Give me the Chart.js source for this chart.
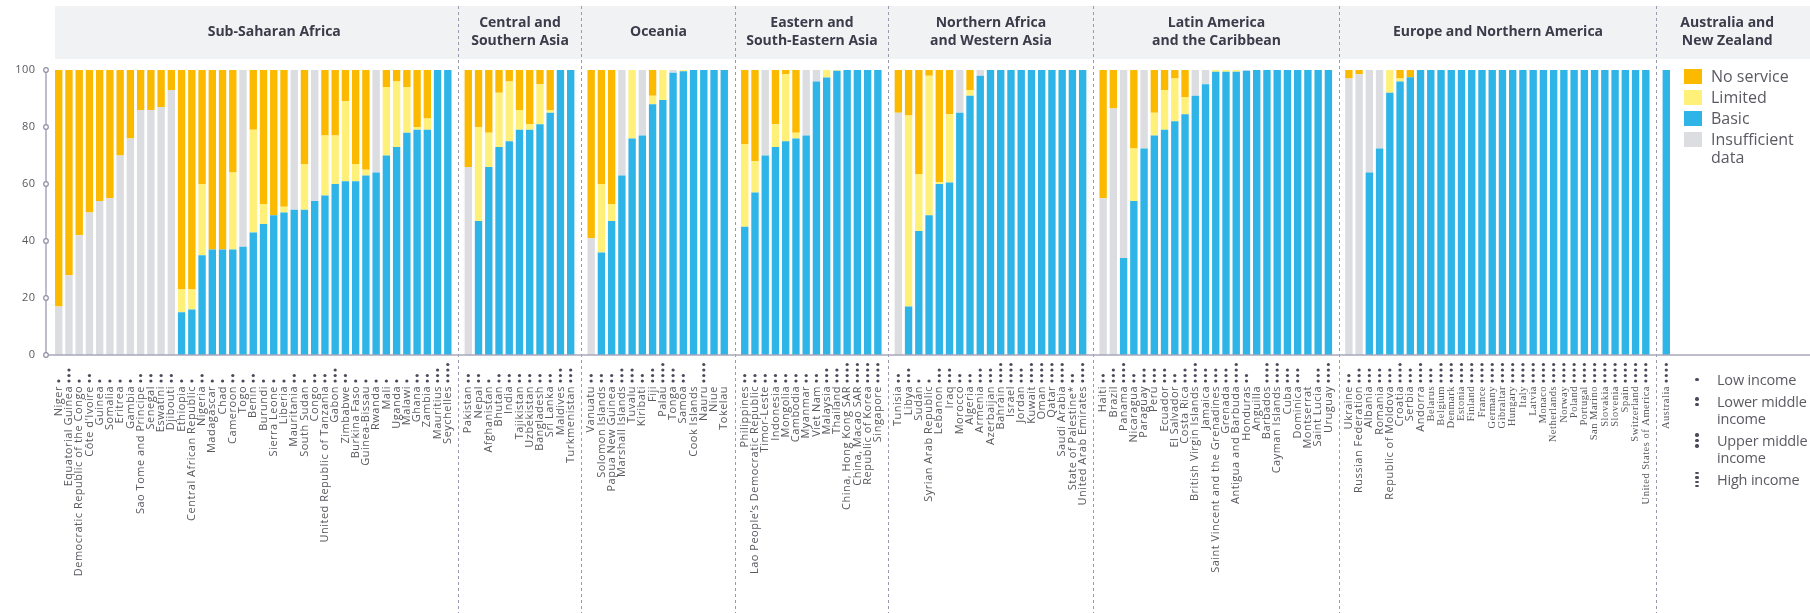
<!DOCTYPE html>
<html>
<head>
<meta charset="utf-8">
<script src="https://cdn.jsdelivr.net/npm/chart.js@4.4.1/dist/chart.umd.min.js"></script>
<style>
  html, body { margin: 0; padding: 0; background: #fff; }
  #wrap { position: relative; width: 1810px; height: 613px; overflow: hidden; }
  #chart { position: absolute; left: 0; top: 0; }
  .legend { position: absolute; font-family: 'Open Sans', sans-serif; font-size: 16px; color: #5a5a62; }
  .legend .row { display: flex; align-items: flex-start; }
  .legend .sw { width: 18px; height: 15px; margin-top: 2px; margin-right: 9px; flex: none; }
  .legend .lbl { line-height: 18px; white-space: nowrap; }
  .legend .dots { width: 14px; margin-right: 13px; flex: none; display: flex; flex-direction: column; align-items: center; justify-content: center; height: 17px; }
  .legend .dots i { display: block; width: 3.4px; height: 3.4px; border-radius: 50%; background: #4a4a5a; margin: 1px 0; }
  #incomeLegend { font-size: 14.5px; letter-spacing: -0.2px; }
  .legend .inc .lbl { line-height: 17px; }
</style>
</head>
<body>
<div id="wrap">
  <canvas id="chart" width="1810" height="613"></canvas>
  <div class="legend" id="seriesLegend" style="left:1684px; top:67px;"></div>
  <div class="legend" id="incomeLegend" style="left:1690px; top:371px;"></div>
</div>
<script>
/* ===== Data ===== */
const regionTitles = [
  ['Sub-Saharan Africa'],
  ['Central and', 'Southern Asia'],
  ['Oceania'],
  ['Eastern and', 'South-Eastern Asia'],
  ['Northern Africa', 'and Western Asia'],
  ['Latin America', 'and the Caribbean'],
  ['Europe and Northern America'],
  ['Australia and', 'New Zealand']
];

// '' marks the gap between two regions
const countries = [
  'Niger', 'Equatorial Guinea', 'Democratic Republic of the Congo', "Côte d'Ivoire", 'Guinea', 'Somalia', 'Eritrea', 'Gambia',
  'Sao Tome and Principe', 'Senegal', 'Eswatini', 'Djibouti', 'Ethiopia', 'Central African Republic', 'Nigeria', 'Madagascar',
  'Chad', 'Cameroon', 'Togo', 'Benin', 'Burundi', 'Sierra Leone', 'Liberia', 'Mauritania', 'South Sudan', 'Congo',
  'United Republic of Tanzania', 'Gabon', 'Zimbabwe', 'Burkina Faso', 'Guinea-Bissau', 'Rwanda', 'Mali', 'Uganda', 'Malawi',
  'Ghana', 'Zambia', 'Mauritius', 'Seychelles', '',
  'Pakistan', 'Nepal', 'Afghanistan', 'Bhutan', 'India', 'Tajikistan', 'Uzbekistan', 'Bangladesh', 'Sri Lanka', 'Maldives',
  'Turkmenistan', '',
  'Vanuatu', 'Solomon Islands', 'Papua New Guinea', 'Marshall Islands', 'Tuvalu', 'Kiribati', 'Fiji', 'Palau', 'Tonga',
  'Samoa', 'Cook Islands', 'Nauru', 'Niue', 'Tokelau', '',
  'Philippines', 'Lao People\u2019s Democratic Republic', 'Timor-Leste', 'Indonesia', 'Mongolia', 'Cambodia', 'Myanmar',
  'Viet Nam', 'Malaysia', 'Thailand', 'China, Hong Kong SAR', 'China, Macao SAR', 'Republic of Korea', 'Singapore', '',
  'Tunisia', 'Libya', 'Sudan', 'Syrian Arab Republic', 'Lebanon', 'Iraq', 'Morocco', 'Algeria', 'Armenia', 'Azerbaijan',
  'Bahrain', 'Israel', 'Jordan', 'Kuwait', 'Oman', 'Qatar', 'Saudi Arabia', 'State of Palestine*', 'United Arab Emirates', '',
  'Haiti', 'Brazil', 'Panama', 'Nicaragua', 'Paraguay', 'Peru', 'Ecuador', 'El Salvador', 'Costa Rica',
  'British Virgin Islands', 'Jamaica', 'Saint Vincent and the Grenadines', 'Grenada', 'Antigua and Barbuda', 'Honduras',
  'Anguilla', 'Barbados', 'Cayman Islands', 'Cuba', 'Dominica', 'Montserrat', 'Saint Lucia', 'Uruguay', '',
  'Ukraine', 'Russian Federation', 'Albania', 'Romania', 'Republic of Moldova', 'Croatia', 'Serbia', 'Andorra', 'Belarus',
  'Belgium', 'Denmark', 'Estonia', 'Finland', 'France', 'Germany', 'Gibraltar', 'Hungary', 'Italy', 'Latvia', 'Monaco',
  'Netherlands', 'Norway', 'Poland', 'Portugal', 'San Marino', 'Slovakia', 'Slovenia', 'Spain', 'Switzerland',
  'United States of America', '',
  'Australia'
];

// income group: 1 low, 2 lower middle, 3 upper middle, 4 high, 0 not classified
const income = [
  1,3,1,2,1,1,1,1,2,2,2,2, 1,1,2,1, 1,2,1,2,1,1,1,2, 1,2,2,3,2,1,1,1, 1,1,1,2,2,3,4, null,
  2,2,1,2,2,2,2,2,2,3,3, null,
  2,2,2,3,3,2,3,4,3,2,0,4,0,0, null,
  2,2,2,2,2,2,2,2,3,3,4,4,4,4, null,
  2,3,1,1,3,3,2,2,3,3,4,4,3,4,4,4,4,2,4, null,
  2,3,4,2,3,3,3,2,3,4,3,3,3,4,2,0,4,4,3,3,0,3,4, null,
  2,3,3,3,3,4,3,4,3, 4,4,4,4,4,4,4,4,4,4,4,4,4,4,4,4,4,4,4,4,4, null,
  4
];

const basic = [
  0,0,0,0,0,0,0,0,0,0,0,0, 15,16,35,37,37,37,38,43,46,49,50,51,51,54,56,60,61,61,63,64,70,73,78,79,79,100,100, null,
  0,47,66,73,75,79,79,81,85,100,100, null,
  0,36,47,63,76,77,88,89.5,99,99.6,100,100,100,100, null,
  45,57,70,73,75,76,77,96,97.4,99.7,100,100,100,100, null,
  0,17,43.5,49,60,60.5,85,91,98, 100,100,100,100,100,100,100,100,100,100, null,
  0,0,34,54,72.5,77,79,82,84.5,91,95,99.4,99.4,99.4,99.7, 100,100,100,100,100,100,100,100, null,
  0,0,64,72.5,92,96,97.5, 100,100,100,100,100,100,100,100,100,100,100,100,100,100,100,100,100,100,100,100,100,100,100, null,
  100
];

const limited = [
  0,0,0,0,0,0,0,0,0,0,0,0, 8,7,25,0,0,27,0,36,7,0,2,0,16,0,21,17,28,6,2,0,24,23,16,1,4,0,0, null,
  0,33,12,19,21,7,2,14,1,0,0, null,
  0,24,6,0,24,0,3,10.5,0,0.4,0,0,0,0, null,
  29,11,0,8,23.5,2,0,0,2.6,0.3,0,0,0,0, null,
  0,67,20,49,0.6,24,0,2,0, 0,0,0,0,0,0,0,0,0,0, null,
  0,0,0,18.5,0,8,14,15,6,0,0,0.6,0.6,0.6,0, 0,0,0,0,0,0,0,0, null,
  0,0,0,0,8,1,0, 0,0,0,0,0,0,0,0,0,0,0,0,0,0,0,0,0,0,0,0,0,0,0, null,
  0
];

const insufficient = [
  17,28,42,50,54,55,70,76,86,86,87,93, 0,0,0,0,0,0,62,0,0,0,0,49,0,46,0,0,0,0,0,36,0,0,0,0,0,0,0, null,
  66,0,0,0,0,0,0,0,0,0,0, null,
  41,0,0,37,0,23,0,0,1,0,0,0,0,0, null,
  0,0,30,0,0,0,23,4,0,0,0,0,0,0, null,
  85,0,0,0,0,0,15,0,2, 0,0,0,0,0,0,0,0,0,0, null,
  55,86.5,66,0,27.5,0,0,0,0,9,5,0,0,0,0.3, 0,0,0,0,0,0,0,0, null,
  97,98.5,36,27.5,0,0,0, 0,0,0,0,0,0,0,0,0,0,0,0,0,0,0,0,0,0,0,0,0,0,0, null,
  0
];

const noService = [
  83,72,58,50,46,45,30,24,14,14,13,7, 77,77,40,63,63,36,0,21,47,51,48,0,33,0,23,23,11,33,35,0,6,4,6,20,17,0,0, null,
  34,20,22,8,4,14,19,5,14,0,0, null,
  59,40,47,0,0,0,9,0,0,0,0,0,0,0, null,
  26,32,0,19,1.5,22,0,0,0,0,0,0,0,0, null,
  15,16,36.5,2,39.4,15.5,0,7,0, 0,0,0,0,0,0,0,0,0,0, null,
  45,13.5,0,27.5,0,15,7,3,9.5,0,0,0,0,0,0, 0,0,0,0,0,0,0,0, null,
  3,1.5,0,0,0,3,2.5, 0,0,0,0,0,0,0,0,0,0,0,0,0,0,0,0,0,0,0,0,0,0,0, null,
  0
];

const legendLabels = [['No service'], ['Limited'], ['Basic'], ['Insufficient', 'data']];
const incomeLabels = [['Low income'], ['Lower middle', 'income'], ['Upper middle', 'income'], ['High income']];

const COLORS = {
  noService: '#fbba00',
  limited: '#fff07a',
  basic: '#2eb4e6',
  insufficient: '#dcdde0'
};
const legendColors = [COLORS.noService, COLORS.limited, COLORS.basic, COLORS.insufficient];

/* ===== Legends (HTML) ===== */
const seriesLegend = document.getElementById('seriesLegend');
legendLabels.forEach((lines, i) => {
  const row = document.createElement('div');
  row.className = 'row';
  row.style.marginBottom = '3px';
  row.innerHTML = `<span class="sw" style="background:${legendColors[i]}"></span><span class="lbl">${lines.join('<br>')}</span>`;
  seriesLegend.appendChild(row);
});

const incomeLegend = document.getElementById('incomeLegend');
incomeLabels.forEach((lines, i) => {
  const row = document.createElement('div');
  row.className = 'row inc';
  row.style.marginBottom = '5px';
  const dots = Array.from({ length: i + 1 }, () => '<i></i>').join('');
  row.innerHTML = `<span class="dots">${dots}</span><span class="lbl">${lines.join('<br>')}</span>`;
  incomeLegend.appendChild(row);
});

/* ===== Chart ===== */
const narrowFrom = countries.indexOf('Belarus');
const AXIS_X = 46;

const decor = {
  id: 'decor',
  beforeDraw(chart) {
    const { ctx: c, scales: { x } } = chart;
    const gaps = countries.map((n, i) => (n === '' ? i : -1)).filter(i => i >= 0);
    const divX = gaps.map(i => Math.round(x.getPixelForValue(i)) + 0.5);

    c.save();
    // header band
    c.fillStyle = '#f1f2f4';
    c.fillRect(55, 6, chart.width - 55, 53);
    // dashed region dividers
    c.strokeStyle = '#9898ae';
    c.lineWidth = 1;
    c.setLineDash([3, 3]);
    divX.forEach(px => {
      c.beginPath(); c.moveTo(px, 6); c.lineTo(px, chart.height); c.stroke();
    });
    c.setLineDash([]);
    // region titles
    c.fillStyle = '#3b3b4a';
    c.font = 'bold 14px "Open Sans"';
    c.textAlign = 'center';
    c.textBaseline = 'middle';
    const lefts = [90, ...divX];
    const rights = [...divX, 1798];
    regionTitles.forEach((lines, r) => {
      const cx = (lefts[r] + rights[r]) / 2;
      const top = lines.length === 1 ? 32 : 23.5;
      lines.forEach((t, k) => c.fillText(t, cx, top + k * 18));
    });
    c.restore();
    c.letterSpacing = '0.5px'; // tick labels are spaced out in the original
  },
  afterDraw(chart) {
    const { ctx: c, scales: { x, y } } = chart;
    c.save();
    c.letterSpacing = '0px';
    const y0 = y.getPixelForValue(0);
    const y100 = y.getPixelForValue(100);

    // x axis line runs to the right edge
    c.strokeStyle = '#a7a7bb';
    c.lineWidth = 1.5;
    c.beginPath(); c.moveTo(AXIS_X, y0); c.lineTo(chart.width, y0); c.stroke();

    // y axis with open circles at ticks
    c.strokeStyle = '#8f8fa8';
    c.lineWidth = 1.2;
    c.beginPath(); c.moveTo(AXIS_X, y100); c.lineTo(AXIS_X, y0); c.stroke();
    y.ticks.forEach(t => {
      const py = y.getPixelForValue(t.value);
      c.beginPath(); c.arc(AXIS_X, py, 2.3, 0, Math.PI * 2);
      c.fillStyle = '#fff'; c.fill(); c.stroke();
    });

    // income dots under each country
    c.fillStyle = '#4a4a5a';
    income.forEach((n, i) => {
      if (!n) return;
      const px = x.getPixelForValue(i);
      for (let k = 0; k < n; k++) {
        c.beginPath(); c.arc(px, y0 + 26 - k * 5.5, 1.6, 0, Math.PI * 2); c.fill();
      }
    });
    c.restore();
  }
};

const barStyle = { barPercentage: 0.72, categoryPercentage: 1.0, borderWidth: 0 };

new Chart(document.getElementById('chart').getContext('2d'), {
  type: 'bar',
  data: {
    labels: countries,
    datasets: [
      { label: 'Basic', data: basic, backgroundColor: COLORS.basic, ...barStyle },
      { label: 'Limited', data: limited, backgroundColor: COLORS.limited, ...barStyle },
      { label: 'Insufficient data', data: insufficient, backgroundColor: COLORS.insufficient, ...barStyle },
      { label: 'No service', data: noService, backgroundColor: COLORS.noService, ...barStyle }
    ]
  },
  options: {
    responsive: false,
    animation: false,
    layout: { padding: { top: 70, right: 138.6, left: 0, bottom: 0 } },
    plugins: {
      legend: { display: false },
      tooltip: { enabled: false }
    },
    scales: {
      x: {
        stacked: true,
        offset: true,
        grid: { display: false, drawTicks: false },
        border: { display: false },
        ticks: {
          autoSkip: false,
          minRotation: 90,
          maxRotation: 90,
          padding: 31,
          color: '#58585f',
          font: (ctx) => ctx.index >= narrowFrom
            ? { family: 'Liberation Sans Narrow', size: 10.5 }
            : { family: 'Open Sans', size: 11 }
        },
        afterFit: (s) => { s.height = 258; }
      },
      y: {
        stacked: true,
        min: 0,
        max: 100,
        grid: { display: false, drawTicks: false },
        border: { display: false },
        ticks: { stepSize: 20, padding: 18, color: '#58585f', font: { family: 'Open Sans', size: 11 } },
        afterFit: (s) => { s.width = 53.6; }
      }
    }
  },
  plugins: [decor]
});
</script>
</body>
</html>
